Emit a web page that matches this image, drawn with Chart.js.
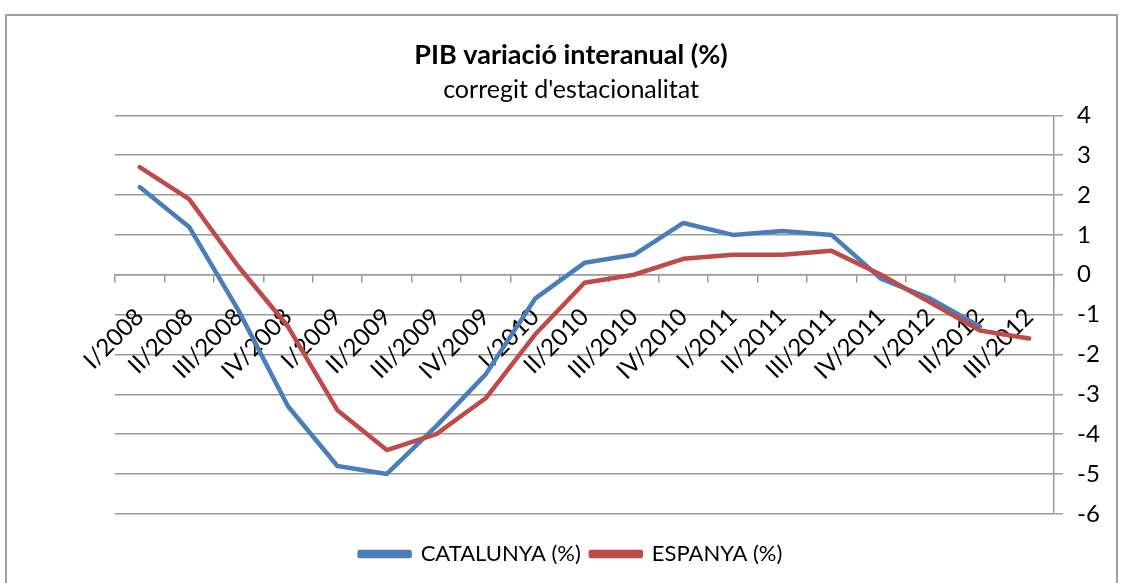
<!DOCTYPE html>
<html>
<head>
<meta charset="utf-8">
<script src="https://cdn.jsdelivr.net/npm/chart.js@4/dist/chart.umd.min.js"></script>
<style>
  html, body { margin: 0; padding: 0; background: #fff; }
  #wrap { width: 1125px; height: 583px; }
</style>
</head>
<body>
<div id="wrap"><canvas id="pib"></canvas></div>
<script>
const quarters = ['I/2008', 'II/2008', 'III/2008', 'IV/2008', 'I/2009', 'II/2009', 'III/2009', 'IV/2009',
  'I/2010', 'II/2010', 'III/2010', 'IV/2010', 'I/2011', 'II/2011', 'III/2011', 'IV/2011',
  'I/2012', 'II/2012', 'III/2012'];
const catalunya = [2.2, 1.2, -0.9, -3.3, -4.8, -5.0, -3.8, -2.5, -0.6, 0.3, 0.5, 1.3, 1.0, 1.1, 1.0, -0.1, -0.6, -1.3, null];
const espanya = [2.7, 1.9, 0.2, -1.3, -3.4, -4.4, -4.0, -3.1, -1.5, -0.2, 0.0, 0.4, 0.5, 0.5, 0.6, 0.0, -0.7, -1.4, -1.6];

const FONT = 'Lato, "Open Sans", sans-serif';
const GRID = '#9a9a9a';

// grey frame round the whole chart, like the spreadsheet chart box
const frame = {
  id: 'frame',
  beforeDraw(chart) {
    const ctx = chart.ctx;
    ctx.save();
    ctx.fillStyle = '#fff';
    ctx.fillRect(0, 0, chart.width, chart.height);
    ctx.strokeStyle = '#a0a0a0';
    ctx.lineWidth = 2;
    ctx.strokeRect(6, 15, 1111, 600);
    ctx.restore();
  }
};

new Chart(document.getElementById('pib'), {
  type: 'line',
  data: {
    labels: quarters,
    datasets: [
      { label: 'CATALUNYA (%)', data: catalunya, borderColor: '#4a7ebb', backgroundColor: '#4a7ebb', order: 1 },
      { label: 'ESPANYA (%)', data: espanya, borderColor: '#be4b48', backgroundColor: '#be4b48', order: 0 }
    ]
  },
  options: {
    responsive: true,
    maintainAspectRatio: false,
    animation: false,
    layout: { padding: { left: 17, right: 0, top: 0, bottom: 8 } },
    elements: {
      line: { borderWidth: 4.5, tension: 0, borderCapStyle: 'round', borderJoinStyle: 'round' },
      point: { radius: 0 }
    },
    plugins: {
      tooltip: { enabled: false },
      title: {
        display: true,
        text: 'PIB variació interanual (%)',
        color: '#000',
        font: { family: FONT, size: 27, weight: 'bold' },
        padding: { top: 39, bottom: 0 }
      },
      subtitle: {
        display: true,
        text: "corregit d'estacionalitat",
        color: '#000',
        font: { family: FONT, size: 25 },
        padding: { top: 4, bottom: 10 }
      },
      legend: {
        position: 'bottom',
        // empty title only to leave a gap above the legend row
        title: { display: true, text: ' ', font: { size: 1 }, padding: { top: 0, bottom: 18 } },
        labels: {
          color: '#000',
          font: { family: FONT, size: 22 },
          boxWidth: 50,
          boxHeight: 4,
          padding: 10,
          sort: (a, b) => a.datasetIndex - b.datasetIndex
        }
      }
    },
    scales: {
      x: {
        position: { y: 0 },
        offset: true,
        grid: { display: true, drawOnChartArea: false, drawTicks: true, tickLength: 7, offset: true, color: GRID, lineWidth: 1.5 },
        border: { display: true, color: GRID, width: 1.5 },
        ticks: { color: '#000', font: { family: FONT, size: 24 }, minRotation: 45, maxRotation: 45, autoSkip: false, padding: 21 }
      },
      y: {
        position: 'right',
        min: -6,
        max: 4,
        afterFit(scale) { scale.width = 71; },
        grid: { color: GRID, lineWidth: 1.5, tickLength: 9 },
        border: { display: true, color: GRID, width: 1.5 },
        ticks: { stepSize: 1, color: '#000', font: { family: FONT, size: 24 }, padding: 14 }
      },
      // blank axis that only reserves the left margin
      side: {
        type: 'linear',
        position: 'left',
        afterFit(scale) { scale.width = 98; },
        grid: { display: false },
        border: { display: false },
        ticks: { display: false }
      }
    }
  },
  plugins: [frame]
});
</script>
</body>
</html>
